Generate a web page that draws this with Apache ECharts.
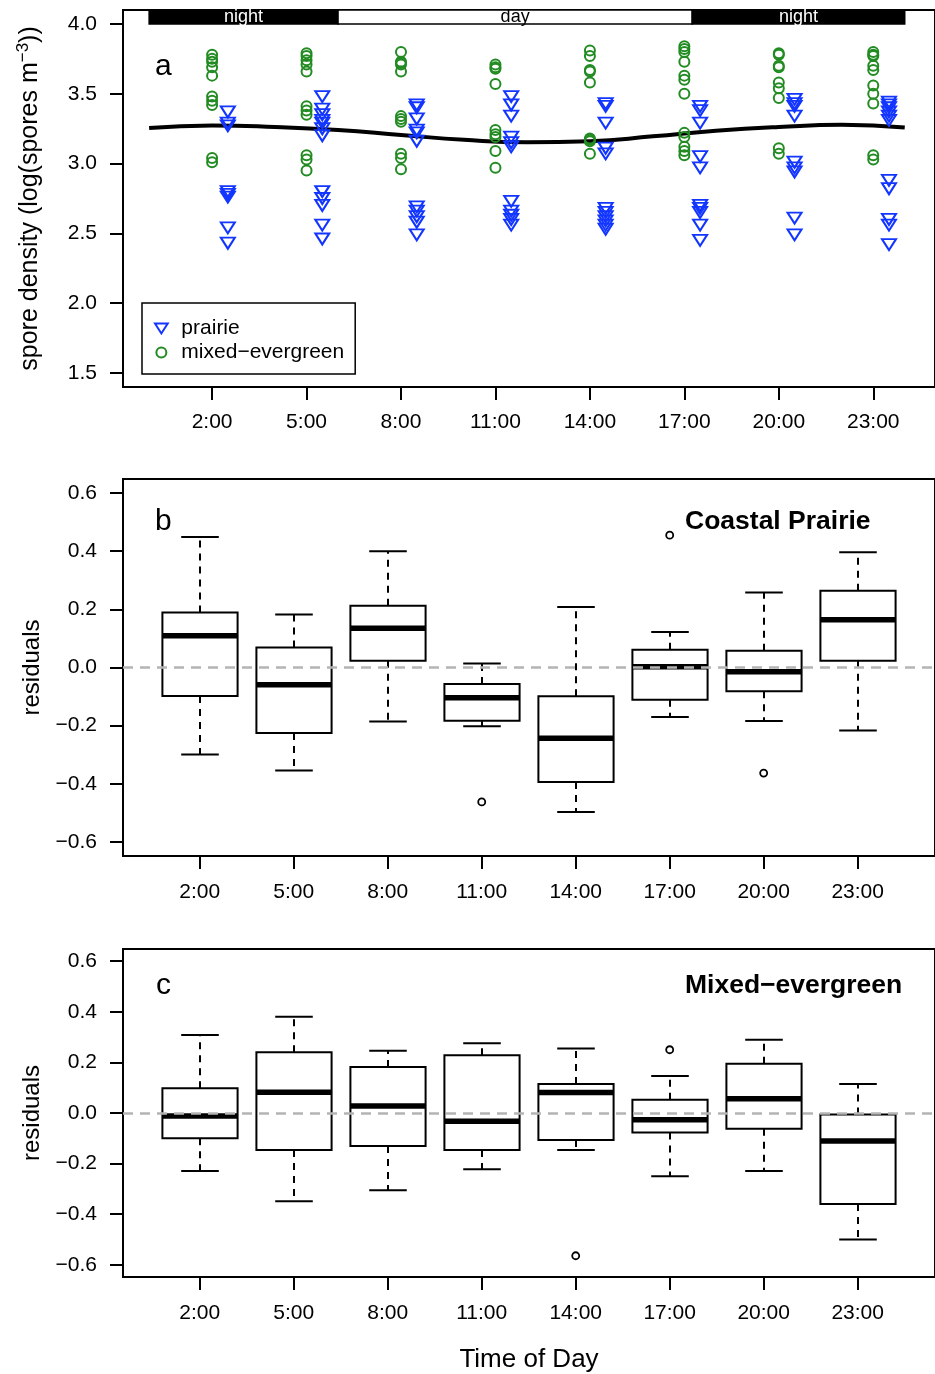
<!DOCTYPE html>
<html>
<head>
<meta charset="utf-8">
<script src="https://cdn.jsdelivr.net/npm/echarts@6/dist/echarts.min.js"></script>
<style>
  html, body { margin: 0; padding: 0; background: #fff; }
  #chart { width: 935px; height: 1374px; }
</style>
</head>
<body>
<div id="chart"></div>
<script>
// ---------------- DATA ----------------
const sampleHours = [2, 5, 8, 11, 14, 17, 20, 23];
const timeLabels = ['2:00', '5:00', '8:00', '11:00', '14:00', '17:00', '20:00', '23:00'];

// panel a: log spore density, one list per sampling time
const mixedEvergreen = [
  [3.78, 3.75, 3.73, 3.69, 3.63, 3.48, 3.45, 3.42, 3.04, 3.01],
  [3.79, 3.77, 3.74, 3.71, 3.66, 3.41, 3.38, 3.35, 3.06, 3.03, 2.95],
  [3.80, 3.73, 3.72, 3.71, 3.66, 3.34, 3.32, 3.30, 3.07, 3.04, 2.96],
  [3.71, 3.69, 3.68, 3.57, 3.24, 3.21, 3.19, 3.09, 2.97],
  [3.81, 3.77, 3.67, 3.66, 3.58, 3.18, 3.17, 3.16, 3.07],
  [3.84, 3.82, 3.80, 3.73, 3.63, 3.60, 3.50, 3.22, 3.19, 3.12, 3.09, 3.06],
  [3.79, 3.78, 3.70, 3.69, 3.58, 3.54, 3.47, 3.11, 3.07],
  [3.80, 3.78, 3.77, 3.70, 3.67, 3.56, 3.50, 3.43, 3.06, 3.03]
];
const prairie = [
  [3.37, 3.29, 3.27, 2.80, 2.78, 2.76, 2.54, 2.43],
  [3.48, 3.39, 3.35, 3.31, 3.29, 3.25, 3.20, 2.80, 2.75, 2.70, 2.56, 2.46],
  [3.42, 3.40, 3.32, 3.24, 3.22, 3.16, 2.69, 2.66, 2.62, 2.58, 2.49],
  [3.48, 3.42, 3.34, 3.19, 3.15, 3.12, 2.73, 2.66, 2.63, 2.60, 2.56],
  [3.43, 3.41, 3.29, 3.11, 3.07, 2.68, 2.65, 2.62, 2.59, 2.56, 2.53],
  [3.41, 3.38, 3.29, 3.05, 2.97, 2.70, 2.68, 2.65, 2.56, 2.45],
  [3.46, 3.43, 3.41, 3.34, 3.01, 2.97, 2.94, 2.61, 2.49],
  [3.44, 3.42, 3.40, 3.37, 3.34, 3.31, 2.88, 2.82, 2.60, 2.56, 2.42]
];
// fitted diel curve
const curveHours  = [0, 2, 4, 6, 8, 10, 12, 14, 16, 18, 20, 22, 24];
const curveValues = [3.255, 3.273, 3.262, 3.240, 3.205, 3.170, 3.152, 3.160, 3.195, 3.235, 3.262, 3.278, 3.258];
// light periods
const periodNames = ['night', 'day', 'night'];
const periodStart = [0, 6, 17.25];
const periodEnd   = [6, 17.25, 24];
const yTicksA = [1.5, 2.0, 2.5, 3.0, 3.5, 4.0];

// panels b and c: residual boxplots [lower whisker, Q1, median, Q3, upper whisker]
const prairieBox = [
  [-0.299, -0.098,  0.109,  0.189, 0.449],
  [-0.354, -0.225, -0.059,  0.069, 0.182],
  [-0.186,  0.023,  0.135,  0.212, 0.400],
  [-0.202, -0.183, -0.104, -0.057, 0.014],
  [-0.497, -0.394, -0.243, -0.099, 0.208],
  [-0.170, -0.111,  0.003,  0.061, 0.122],
  [-0.184, -0.082, -0.015,  0.058, 0.258],
  [-0.217,  0.023,  0.164,  0.264, 0.396]
];
const prairieOutlierIdx = [3, 5, 6];
const prairieOutlierVal = [-0.462, 0.455, -0.363];

const mixedBox = [
  [-0.229, -0.100, -0.012,  0.098, 0.308],
  [-0.349, -0.146,  0.082,  0.240, 0.380],
  [-0.305, -0.130,  0.028,  0.182, 0.246],
  [-0.222, -0.146, -0.033,  0.228, 0.276],
  [-0.146, -0.107,  0.081,  0.115, 0.255],
  [-0.250, -0.077, -0.027,  0.052, 0.146],
  [-0.229, -0.062,  0.056,  0.195, 0.289],
  [-0.500, -0.360, -0.111, -0.006, 0.115]
];
const mixedOutlierIdx = [4, 5];
const mixedOutlierVal = [-0.564, 0.250];
const yTicksBC = [-0.6, -0.4, -0.2, 0.0, 0.2, 0.4, 0.6];

// ---------------- STYLE ----------------
const FONT = '"Liberation Sans", Arial, Helvetica, sans-serif';
const BLUE = '#1236ff';
const GREEN = '#228B22';
const TRI = 'path://M0,0L14,0L7,11Z';
const prairieOffset = 0.5;

const chart = echarts.init(document.getElementById('chart'), null, { renderer: 'canvas' });

const scatterPrairie = [];
prairie.forEach((vals, i) => vals.forEach(v => scatterPrairie.push([sampleHours[i] + prairieOffset, v])));
const scatterMixed = [];
mixedEvergreen.forEach((vals, i) => vals.forEach(v => scatterMixed.push([sampleHours[i], v])));
const curveData = curveHours.map((h, i) => [h, curveValues[i]]);

const boxRows = (arr) => arr.map((r, i) => [i + 1].concat(r));
const outRows = (idx, val) => idx.map((k, i) => [k + 1, val[i]]);

const periodAreas = periodNames.map((n, i) => {
  const night = n === 'night';
  return [
    { name: n, xAxis: periodStart[i], yAxis: 4.0,
      itemStyle: { color: night ? '#000' : '#fff', borderColor: '#000', borderWidth: 1.5 },
      label: { color: night ? '#fff' : '#000' } },
    { xAxis: periodEnd[i], yAxis: 4.1 }
  ];
});

function renderBox(params, api) {
  const x = api.value(0);
  const lo = api.coord([x, api.value(1)]);
  const q1 = api.coord([x, api.value(2)]);
  const md = api.coord([x, api.value(3)]);
  const q3 = api.coord([x, api.value(4)]);
  const hi = api.coord([x, api.value(5)]);
  const hw = api.size([0.4, 0])[0];
  const cw = api.size([0.2, 0])[0];
  const cx = Math.round(lo[0]);
  const dash = { stroke: '#000', lineWidth: 2, lineDash: [7, 6] };
  const solid = { stroke: '#000', lineWidth: 2 };
  return {
    type: 'group',
    children: [
      { type: 'line', shape: { x1: cx, y1: q3[1], x2: cx, y2: hi[1] }, style: dash },
      { type: 'line', shape: { x1: cx, y1: q1[1], x2: cx, y2: lo[1] }, style: dash },
      { type: 'line', shape: { x1: cx - cw, y1: hi[1], x2: cx + cw, y2: hi[1] }, style: solid },
      { type: 'line', shape: { x1: cx - cw, y1: lo[1], x2: cx + cw, y2: lo[1] }, style: solid },
      { type: 'rect', shape: { x: cx - hw, y: q3[1], width: 2 * hw, height: q1[1] - q3[1] },
        style: { fill: '#fff', stroke: '#000', lineWidth: 2 } },
      { type: 'line', shape: { x1: cx - hw, y1: md[1], x2: cx + hw, y2: md[1] },
        style: { stroke: '#000', lineWidth: 5.5 } }
    ]
  };
}

const tickStyle = { show: true, inside: false, length: 13, lineStyle: { color: '#000', width: 2 } };
const labelStyle = { color: '#000', fontSize: 21, fontFamily: FONT };
const minusFmt = v => (Math.abs(v) < 1e-9 ? 0 : v).toFixed(1).replace('-', '\u2212');

function yAxisBC(gi) {
  return {
    type: 'value', gridIndex: gi, min: -0.648, max: 0.648,
    axisLine: { show: false, onZero: false },
    axisTick: Object.assign({ customValues: yTicksBC }, tickStyle),
    axisLabel: Object.assign({ customValues: yTicksBC, margin: 26, formatter: minusFmt }, labelStyle),
    splitLine: { show: false },
    name: 'residuals', nameLocation: 'middle', nameGap: 76,
    nameTextStyle: { fontSize: 24, color: '#000', fontFamily: FONT }
  };
}
function xAxisBC(gi, extra) {
  return Object.assign({
    type: 'value', gridIndex: gi, min: 0.183, max: 0.183 + 815 / 94.33,
    axisLine: { show: false, onZero: false },
    axisTick: Object.assign({ customValues: [1, 2, 3, 4, 5, 6, 7, 8] }, tickStyle),
    axisLabel: Object.assign({ customValues: [1, 2, 3, 4, 5, 6, 7, 8], margin: 26,
      formatter: v => timeLabels[Math.round(v) - 1] }, labelStyle),
    splitLine: { show: false }
  }, extra || {});
}

const zeroLine = {
  silent: true, symbol: 'none', label: { show: false },
  lineStyle: { color: '#b4b4b4', width: 2.5, type: [10, 7] },
  data: [{ yAxis: 0 }]
};

const gridBase = { left: 123, width: 815, show: true, borderColor: '#000', borderWidth: 2, backgroundColor: 'transparent' };

const option = {
  animation: false,
  backgroundColor: '#fff',
  textStyle: { fontFamily: FONT, color: '#000' },
  grid: [
    Object.assign({ top: 10, height: 377 }, gridBase),
    Object.assign({ top: 479, height: 377 }, gridBase),
    Object.assign({ top: 949, height: 331 }, gridBase)
  ],
  xAxis: [
    {
      type: 'value', gridIndex: 0, min: -0.83, max: -0.83 + 815 / 31.6,
      axisLine: { show: false, onZero: false },
      axisTick: Object.assign({ customValues: sampleHours }, tickStyle),
      axisLabel: Object.assign({ customValues: sampleHours, margin: 25,
        formatter: v => timeLabels[sampleHours.indexOf(Math.round(v))] }, labelStyle),
      splitLine: { show: false }
    },
    xAxisBC(1),
    xAxisBC(2, { name: 'Time of Day', nameLocation: 'middle', nameGap: 70,
      nameTextStyle: { fontSize: 26, color: '#000', fontFamily: FONT } })
  ],
  yAxis: [
    {
      type: 'value', gridIndex: 0, min: 1.4, max: 4.1,
      axisLine: { show: false, onZero: false },
      axisTick: Object.assign({ customValues: yTicksA }, tickStyle),
      axisLabel: Object.assign({ customValues: yTicksA, margin: 26, formatter: v => v.toFixed(1) }, labelStyle),
      splitLine: { show: false },
      name: '{n|spore density (log(spores m}{s|\u22123}{n|))}',
      nameLocation: 'middle', nameGap: 80,
      nameTextStyle: {
        color: '#000', fontFamily: FONT, fontSize: 25,
        rich: {
          n: { fontSize: 25, color: '#000', fontFamily: FONT, verticalAlign: 'bottom' },
          s: { fontSize: 17, color: '#000', fontFamily: FONT, verticalAlign: 'bottom', padding: [0, 0, 11, 0] }
        }
      }
    },
    yAxisBC(1),
    yAxisBC(2)
  ],
  legend: {
    left: 142, top: 303, orient: 'vertical',
    borderColor: '#000', borderWidth: 1.5, borderRadius: 0,
    padding: [15, 11, 11, 12],
    itemWidth: 30, itemHeight: 10, itemGap: 3,
    textStyle: { fontSize: 21, color: '#000', fontFamily: FONT },
    selectedMode: false,
    data: [{ name: 'prairie', icon: TRI }, { name: 'mixed\u2212evergreen', icon: 'circle' }]
  },
  graphic: [
    { type: 'text', x: 155, y: 67, style: { text: 'a', fill: '#000', font: '30px ' + FONT, verticalAlign: 'middle' } },
    { type: 'text', x: 155, y: 522, style: { text: 'b', fill: '#000', font: '30px ' + FONT, verticalAlign: 'middle' } },
    { type: 'text', x: 156, y: 986, style: { text: 'c', fill: '#000', font: '30px ' + FONT, verticalAlign: 'middle' } },
    { type: 'text', x: 685, y: 521.5, style: { text: 'Coastal Prairie', fill: '#000', font: 'bold 26.5px ' + FONT, verticalAlign: 'middle' } },
    { type: 'text', x: 685, y: 986, style: { text: 'Mixed\u2212evergreen', fill: '#000', font: 'bold 26.5px ' + FONT, verticalAlign: 'middle' } }
  ],
  series: [
    {
      type: 'line', xAxisIndex: 0, yAxisIndex: 0, data: curveData, smooth: true,
      symbol: 'none', lineStyle: { color: '#000', width: 4 }, z: 3,
      markArea: {
        silent: true,
        label: { show: true, position: 'inside', fontSize: 18, fontFamily: FONT },
        data: periodAreas
      }
    },
    {
      name: 'prairie', type: 'scatter', xAxisIndex: 0, yAxisIndex: 0, data: scatterPrairie,
      symbol: TRI, symbolSize: [14, 11],
      itemStyle: { color: 'rgba(0,0,0,0)', borderColor: BLUE, borderWidth: 2, opacity: 1 }, z: 4
    },
    {
      name: 'mixed\u2212evergreen', type: 'scatter', xAxisIndex: 0, yAxisIndex: 0, data: scatterMixed,
      symbol: 'circle', symbolSize: 10,
      itemStyle: { color: 'rgba(0,0,0,0)', borderColor: GREEN, borderWidth: 2, opacity: 1 }, z: 4
    },
    {
      type: 'custom', xAxisIndex: 1, yAxisIndex: 1, data: boxRows(prairieBox),
      renderItem: renderBox, encode: { x: 0, y: [1, 2, 3, 4, 5] }, z: 2
    },
    {
      type: 'scatter', xAxisIndex: 1, yAxisIndex: 1, data: outRows(prairieOutlierIdx, prairieOutlierVal),
      symbol: 'circle', symbolSize: 7,
      itemStyle: { color: 'rgba(0,0,0,0)', borderColor: '#000', borderWidth: 1.8, opacity: 1 },
      markLine: zeroLine, z: 5
    },
    {
      type: 'custom', xAxisIndex: 2, yAxisIndex: 2, data: boxRows(mixedBox),
      renderItem: renderBox, encode: { x: 0, y: [1, 2, 3, 4, 5] }, z: 2
    },
    {
      type: 'scatter', xAxisIndex: 2, yAxisIndex: 2, data: outRows(mixedOutlierIdx, mixedOutlierVal),
      symbol: 'circle', symbolSize: 7,
      itemStyle: { color: 'rgba(0,0,0,0)', borderColor: '#000', borderWidth: 1.8, opacity: 1 },
      markLine: zeroLine, z: 5
    }
  ]
};
chart.setOption(option);
</script>
</body>
</html>
